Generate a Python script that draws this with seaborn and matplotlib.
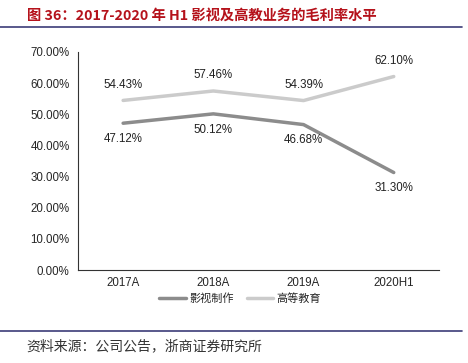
import matplotlib
matplotlib.use('Agg')
import matplotlib.pyplot as plt
import seaborn as sns
import pandas as pd
from matplotlib.lines import Line2D

sns.set_style('white')
plt.rcParams['font.family'] = ['Liberation Sans', 'Noto Sans CJK SC', 'DejaVu Sans']

# ---------------------------------------------------------------
# Data
# ---------------------------------------------------------------
periods = ['2017A', '2018A', '2019A', '2020H1']
film_margin = [47.12, 50.12, 46.68, 31.30]
edu_margin = [54.43, 57.46, 54.39, 62.10]
series_names = ['影视制作', '高等教育']
y_ticks = [0, 10, 20, 30, 40, 50, 60, 70]

df = pd.DataFrame({
    'period': periods * 2,
    'margin': film_margin + edu_margin,
    'series': [series_names[0]] * 4 + [series_names[1]] * 4,
})
colors = {series_names[0]: '#8c8c8c', series_names[1]: '#cbcbcb'}
FS = 8.3

fig = plt.figure(figsize=(4.68, 3.63), dpi=100)
ax = fig.add_axes([0.1667, 0.256, 0.771, 0.601])

sns.lineplot(data=df, x='period', y='margin', hue='series', palette=colors,
             linewidth=2.5, ax=ax, legend=False, sort=False)

ax.set_xlim(-0.5, 3.5)
ax.set_ylim(0, 70)
ax.set_yticks(y_ticks)
ax.set_yticklabels([f'{v:.2f}%' for v in y_ticks], fontsize=FS)
ax.set_xticks([-0.5, 0.5, 1.5, 2.5, 3.5], minor=False)
ax.set_xticklabels([])
ax.set_xticks(range(4), minor=True)
ax.set_xticklabels(periods, minor=True, fontsize=FS)
ax.tick_params(axis='x', which='minor', length=0, pad=5)
ax.tick_params(axis='x', which='major', length=3, width=0.8, direction='out')
ax.tick_params(axis='y', length=3, width=0.8, direction='out', pad=3)
ax.set_xlabel('')
ax.set_ylabel('')
for side in ['top', 'right']:
    ax.spines[side].set_visible(False)
for side in ['left', 'bottom']:
    ax.spines[side].set_color('#333333')
    ax.spines[side].set_linewidth(0.8)

# value labels
for i, v in enumerate(edu_margin):
    ax.annotate(f'{v:.2f}%', (i, v), xytext=(0, 7), textcoords='offset points',
                ha='center', va='bottom', fontsize=FS, color='#222222')
for i, v in enumerate(film_margin):
    ax.annotate(f'{v:.2f}%', (i, v), xytext=(0, -7), textcoords='offset points',
                ha='center', va='top', fontsize=FS, color='#222222')

handles = [Line2D([0], [0], color=colors[n], lw=2.5) for n in series_names]
fig.legend(handles, series_names, loc='center', bbox_to_anchor=(0.513, 0.178),
           ncol=2, frameon=False, handlelength=2.4,
           columnspacing=1.2, handletextpad=0.3,
           prop={'family': ['Noto Sans CJK SC'], 'size': 8})

# title, rules, source
fig.text(0.057, 0.958, '图 36：2017-2020 年 H1 影视及高教业务的毛利率水平',
         fontsize=10.3, fontweight='bold', color='#b5121b', va='center',
         family=['Noto Sans CJK SC', 'DejaVu Sans'])
fig.add_artist(Line2D([0.0, 0.987], [0.925, 0.925], color='#3c3c78', lw=1.2))
fig.add_artist(Line2D([0.0, 0.987], [0.088, 0.088], color='#3c3c78', lw=1.2))
fig.text(0.057, 0.047, '资料来源：公司公告，浙商证券研究所', fontsize=10,
         color='#333333', va='center', family=['Noto Sans CJK SC', 'DejaVu Sans'])

plt.savefig('out.png', dpi=100)
plt.close()
